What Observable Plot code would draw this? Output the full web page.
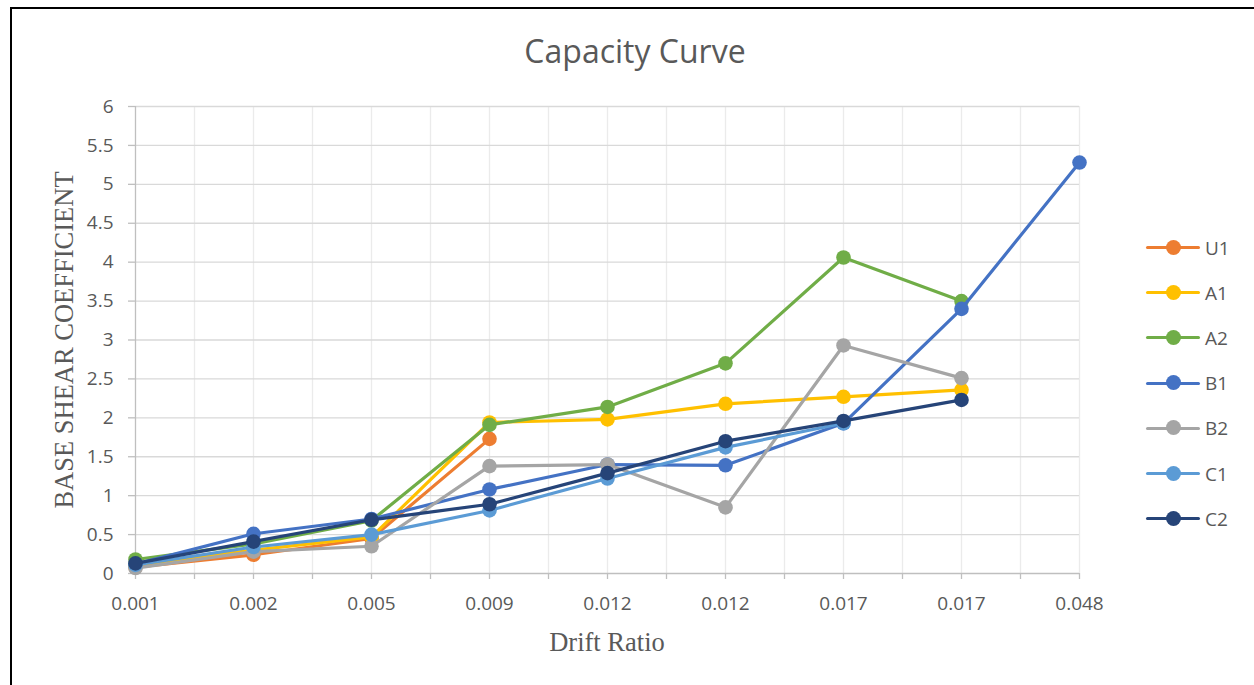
<!DOCTYPE html>
<html>
<head>
<meta charset="utf-8">
<script src="https://cdn.jsdelivr.net/npm/d3@7"></script>
<script src="https://cdn.jsdelivr.net/npm/@observablehq/plot@0.6"></script>
<style>
  html, body { margin: 0; padding: 0; background: #fff; }
  #wrap { position: relative; width: 1254px; height: 685px; overflow: hidden; background: #fff; }
  #frame { position: absolute; left: 10px; top: 7px; right: -10px; bottom: -10px; border-left: 2px solid #000; border-top: 2px solid #000; }
  #chart { position: absolute; left: 0; top: 0; }
  #title { position: absolute; left: 0; width: 1270px; top: 29px; text-align: center; font-family: "Open Sans", sans-serif; font-size: 32px; color: #595959; }
  #ytitle { position: absolute; left: 64px; top: 340px; transform: translate(-50%, -50%) rotate(-90deg); white-space: nowrap; font-family: "Liberation Serif", "Times New Roman", serif; font-size: 26.5px; color: #595959; }
  #xtitle { position: absolute; left: 607px; top: 642px; transform: translate(-50%, -50%); white-space: nowrap; font-family: "Liberation Serif", "Times New Roman", serif; font-size: 26.5px; color: #595959; }
  #legend { position: absolute; left: 1146px; top: 225px; font-family: "Open Sans", sans-serif; font-size: 19px; color: #595959; }
  .item { display: flex; align-items: center; height: 45.2px; }
  .sw { position: relative; width: 54px; height: 16px; margin-right: 5px; }
  .sw .ln { position: absolute; left: 0; right: 0; top: 6.5px; height: 3px; border-radius: 1.5px; }
  .sw .mk { position: absolute; left: 20px; top: 0; width: 15px; height: 15px; border-radius: 50%; }
</style>
</head>
<body>
<div id="wrap">
  <div id="frame"></div>
  <div id="chart"></div>
  <div id="title">Capacity Curve</div>
  <div id="ytitle">BASE SHEAR COEFFICIENT</div>
  <div id="xtitle">Drift Ratio</div>
  <div id="legend"></div>
</div>
<script>
// ---- data ----
const xLabels = ["0.001", "0.002", "0.005", "0.009", "0.012", "0.012", "0.017", "0.017", "0.048"];
const seriesNames = ["U1", "A1", "A2", "B1", "B2", "C1", "C2"];
const seriesColors = ["#ED7D31", "#FFC000", "#70AD47", "#4472C4", "#A5A5A5", "#5B9BD5", "#264478"];
const U1 = [0.08, 0.24, 0.45, 1.73];
const A1 = [0.11, 0.30, 0.47, 1.94, 1.98, 2.18, 2.27, 2.36];
const A2 = [0.18, 0.38, 0.68, 1.91, 2.14, 2.70, 4.06, 3.50];
const B1 = [0.12, 0.51, 0.70, 1.08, 1.40, 1.39, 1.93, 3.40, 5.28];
const B2 = [0.07, 0.28, 0.35, 1.38, 1.40, 0.85, 2.93, 2.51];
const C1 = [0.11, 0.34, 0.50, 0.81, 1.22, 1.62, 1.93];
const C2 = [0.13, 0.41, 0.69, 0.89, 1.29, 1.70, 1.96, 2.23];
const yTicks = [0, 0.5, 1, 1.5, 2, 2.5, 3, 3.5, 4, 4.5, 5, 5.5, 6];

const seriesValues = [U1, A1, A2, B1, B2, C1, C2];
const rows = seriesNames.flatMap((s, k) => seriesValues[k].map((v, i) => ({series: s, i, value: v})));

const lastIdx = xLabels.length - 1;
const halfSteps = d3.range(0, 2 * lastIdx + 1).map(k => k / 2);

const seriesMarks = seriesNames.flatMap(s => {
  const d = rows.filter(r => r.series === s);
  return [
    Plot.line(d, {x: "i", y: "value", stroke: "series", strokeWidth: 3.2, strokeLinejoin: "round", strokeLinecap: "round"}),
    Plot.dot(d, {x: "i", y: "value", fill: "series", r: 7.3, stroke: "none"})
  ];
});

const chart = Plot.plot({
  width: 1254,
  height: 685,
  marginLeft: 135,
  marginRight: 175,
  marginTop: 106,
  marginBottom: 112,
  style: {fontFamily: "'Open Sans', sans-serif", fontSize: "19px", color: "#595959", background: "transparent"},
  x: {type: "linear", domain: [0, lastIdx]},
  y: {domain: [0, 6]},
  color: {domain: seriesNames, range: seriesColors},
  marks: [
    Plot.ruleX(halfSteps.filter(v => v > 0), {stroke: "#ebebeb", strokeWidth: 1.3}),
    Plot.ruleY(yTicks.filter(v => v > 0), {stroke: "#d9d9d9", strokeWidth: 1.3}),
    Plot.ruleX([0], {stroke: "#bfbfbf", strokeWidth: 1.3}),
    Plot.ruleY([0], {stroke: "#bfbfbf", strokeWidth: 1.3}),
    Plot.axisY({ticks: yTicks, tickSize: 7, tickPadding: 15, fontSize: 19, stroke: "#bfbfbf", strokeWidth: 1.3, tickFormat: d => String(d), label: null}),
    Plot.axisX({ticks: halfSteps, tickSize: 6, stroke: "#bfbfbf", strokeWidth: 1.3, tickFormat: () => "", label: null}),
    Plot.axisX({ticks: d3.range(0, lastIdx + 1), tickSize: 0, tickPadding: 23, fontSize: 19, tickFormat: i => xLabels[i], label: null}),
    ...seriesMarks
  ]
});
document.getElementById("chart").appendChild(chart);

// ---- legend ----
const legend = document.getElementById("legend");
seriesNames.forEach((s, k) => {
  const item = document.createElement("div");
  item.className = "item";
  item.innerHTML = `<div class="sw"><div class="ln" style="background:${seriesColors[k]}"></div><div class="mk" style="background:${seriesColors[k]}"></div></div><span>${s}</span>`;
  legend.appendChild(item);
});
</script>
</body>
</html>
